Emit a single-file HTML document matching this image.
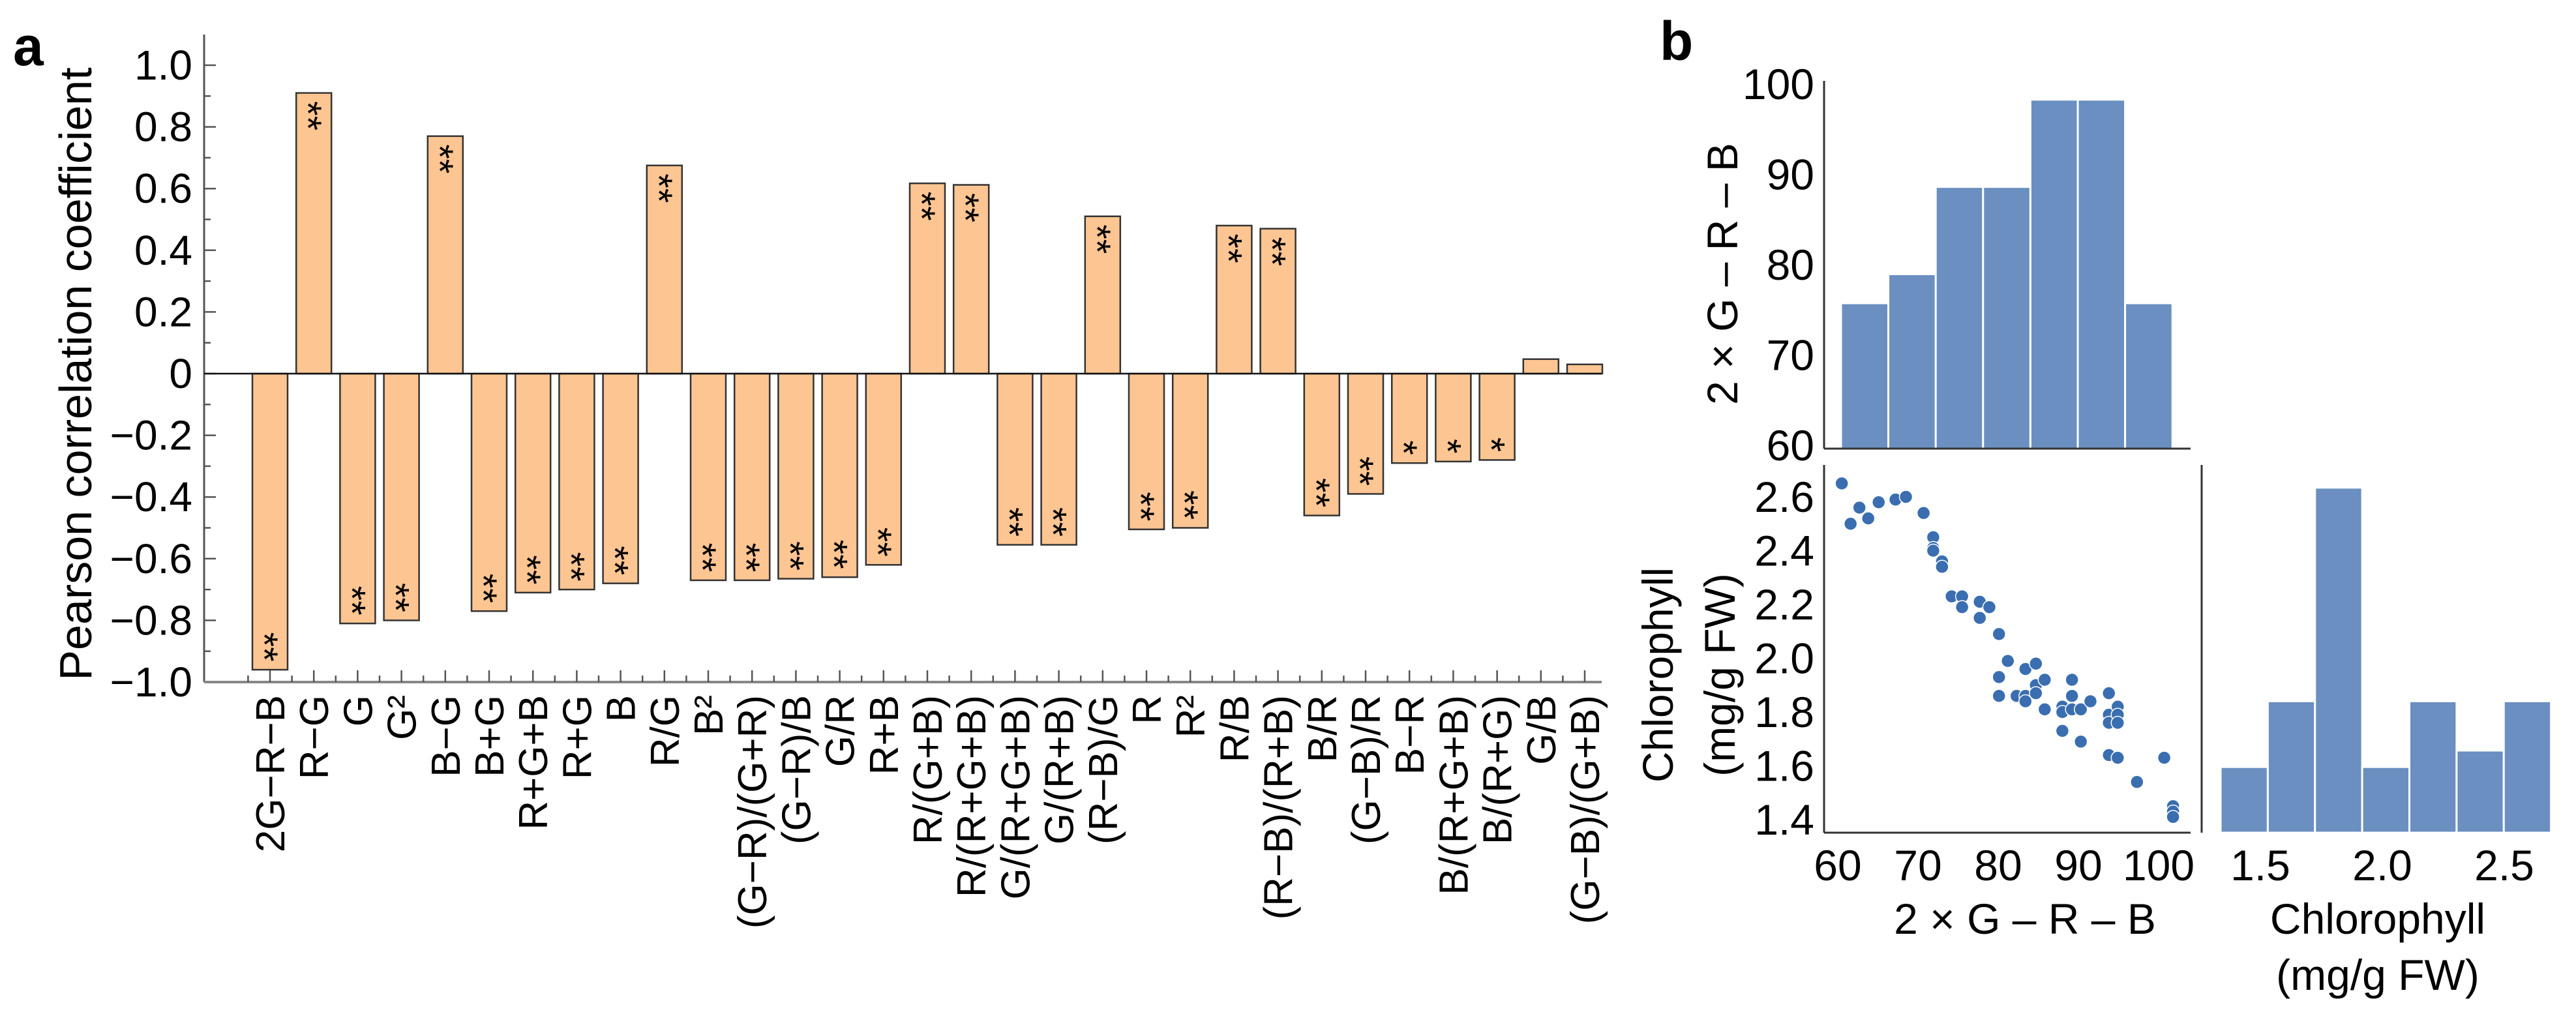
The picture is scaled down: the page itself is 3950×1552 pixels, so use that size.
<!DOCTYPE html>
<html><head><meta charset="utf-8">
<style>
html,body{margin:0;padding:0;background:#fff;}
svg{display:block;font-family:"Liberation Sans",Arial,sans-serif;}
</style></head>
<body>
<svg id="fig" width="3950" height="1552" viewBox="0 0 3950 1552" xmlns="http://www.w3.org/2000/svg">
<text x="20" y="100" font-size="84" font-weight="bold">a</text>
<text x="2545" y="92" font-size="84" font-weight="bold">b</text>
<g id="pa"></g>
<g id="pb"></g>
</svg>
<script>
// ---- Panel a data ----
const categories = ["2G−R−B","R−G","G","G²","B−G","B+G","R+G+B","R+G","B","R/G","B²","(G−R)/(G+R)","(G−R)/B","G/R","R+B","R/(G+B)","R/(R+G+B)","G/(R+G+B)","G/(R+B)","(R−B)/G","R","R²","R/B","(R−B)/(R+B)","B/R","(G−B)/R","B−R","B/(R+G+B)","B/(R+G)","G/B","(G−B)/(G+B)"];
const corrValues = [-0.96,0.91,-0.81,-0.80,0.77,-0.77,-0.71,-0.70,-0.68,0.675,-0.67,-0.67,-0.665,-0.66,-0.62,0.617,0.612,-0.555,-0.555,0.51,-0.505,-0.50,0.48,0.47,-0.46,-0.39,-0.29,-0.285,-0.28,0.047,0.03];
const significance = ["**","**","**","**","**","**","**","**","**","**","**","**","**","**","**","**","**","**","**","**","**","**","**","**","**","**","*","*","*","",""];
const yTicks = [1.0,0.8,0.6,0.4,0.2,0,-0.2,-0.4,-0.6,-0.8,-1.0];
const yTickLabels = ["1.0","0.8","0.6","0.4","0.2","0","−0.2","−0.4","−0.6","−0.8","−1.0"];

// ---- Panel b data ----
const scatterX = [60.5,61.6,62.7,63.8,65.1,67.2,68.5,70.7,71.9,71.9,71.9,73.0,73.0,74.2,75.5,75.5,77.7,77.7,78.9,80.1,80.1,80.1,81.2,82.3,83.4,83.4,83.4,84.7,84.7,84.7,85.8,85.8,88.0,88.0,88.0,89.2,89.2,89.2,90.3,90.3,91.5,93.8,93.8,93.8,93.8,94.9,94.9,94.9,94.9,97.3,100.7,101.8,101.8,101.8];
const scatterY = [2.65,2.50,2.56,2.52,2.58,2.59,2.60,2.54,2.45,2.41,2.40,2.36,2.34,2.23,2.23,2.19,2.21,2.15,2.19,2.09,1.93,1.86,1.99,1.86,1.96,1.86,1.84,1.98,1.90,1.87,1.92,1.81,1.82,1.80,1.73,1.92,1.86,1.81,1.81,1.69,1.84,1.87,1.79,1.76,1.64,1.82,1.79,1.76,1.63,1.54,1.63,1.45,1.43,1.41];
const histTopCounts = [5,6,9,9,12,12,5];
const histRightCounts = [4,8,21,4,8,5,8];
const scatterXTicks = [60,70,80,90,100];
const scatterYTicks = [1.4,1.6,1.8,2.0,2.2,2.4,2.6];
const topHistTicks = [60,70,80,90,100];
const rightHistTicks = [1.5,2.0,2.5];

const NS="http://www.w3.org/2000/svg";
function mk(tag,attrs,parent,txt){const e=document.createElementNS(NS,tag);for(const k in attrs)e.setAttribute(k,attrs[k]);if(txt!==undefined)e.textContent=txt;parent.appendChild(e);return e;}

// ===== Panel a =====
const pa=document.getElementById('pa');
const axX=313, axRight=2456, y0=573, unit=473, x0c=414, pitch=67.2, barW=54;
const ya=v=>y0-v*unit;
const xa=i=>x0c+i*pitch;
let ax=mk('line',{x1:axX,y1:53,x2:axX,y2:ya(-1),stroke:'#555','stroke-width':3},pa);

for(let k=-10;k<=10;k++){const v=k/10;const major=(k%2===0);
 const t=mk('line',{x1:axX,y1:ya(v),x2:axX+(major?18:10),y2:ya(v),stroke:'#555','stroke-width':2.5},pa);
 }
yTicks.forEach((v,i)=>{const t=mk('text',{x:axX-18,y:ya(v)+22,'font-size':64,'text-anchor':'end'},pa,yTickLabels[i]);
 });
let yt=mk('text',{x:0,y:0,'font-size':70,'text-anchor':'middle',transform:`translate(140,${(100+1047)/2}) rotate(-90)`},pa,'Pearson correlation coefficient');

// bars
corrValues.forEach((v,i)=>{
 const cx=xa(i);const top=Math.min(ya(v),y0),h=Math.abs(ya(v)-y0);
 const r=mk('rect',{x:cx-barW/2,y:top,width:barW,height:h,fill:'#FDC592',stroke:'#333','stroke-width':2.5},pa);
 
});
// significance marks (drawn after bars)
corrValues.forEach((v,i)=>{
 const cx=xa(i);const s=significance[i];
 if(s){const len=s.length*23;const cy=v>0?ya(v)+12+len/2:ya(v)-12-len/2;
  const st=mk('text',{x:0,y:0,'font-size':58,'text-anchor':'middle',transform:`translate(${cx-29},${cy}) rotate(90)`},pa,s);
  }
});
let zl=mk('line',{x1:axX,y1:y0,x2:axRight,y2:y0,stroke:'#111','stroke-width':2.5},pa);

let xl=mk('line',{x1:axX,y1:ya(-1),x2:axRight,y2:ya(-1),stroke:'#888','stroke-width':4},pa);

for(let k=-1;k<=categories.length*2-1;k++){const x=x0c+k*pitch/2;if(x<axX+5||x>axRight)continue;const major=(k%2===0);
 const t=mk('line',{x1:x,y1:ya(-1),x2:x,y2:ya(-1)-(major?18:10),stroke:'#555','stroke-width':2.5},pa);
 }
categories.forEach((c,i)=>{
 const t=mk('text',{x:0,y:0,'font-size':62,'text-anchor':'end',transform:`translate(${xa(i)+22},${ya(-1)+20}) rotate(-90)`},pa,c);
 });

// ===== Panel b =====
const pb=document.getElementById('pb');
const blue='#6A8FC0';
const sx=v=>2818+(v-60)*12.3;
const sy=v=>762+(2.6-v)*412.5;
const thBase=688, thUnit=44.6, binStart=2823, binW=72.6;
histTopCounts.forEach((c,i)=>{const r=mk('rect',{x:binStart+i*binW,y:thBase-c*thUnit,width:binW,height:c*thUnit,fill:blue,stroke:'#fff','stroke-width':3},pb);
 });
let a1=mk('line',{x1:2797,y1:124,x2:2797,y2:thBase,stroke:'#333','stroke-width':3},pb);
let a2=mk('line',{x1:2797,y1:thBase,x2:3359,y2:thBase,stroke:'#333','stroke-width':3},pb);
topHistTicks.forEach(v=>{const t=mk('text',{x:2782,y:683-(v-60)*13.85+23,'font-size':66,'text-anchor':'end'},pb,String(v));
 });
let t1=mk('text',{x:0,y:0,'font-size':66,'text-anchor':'middle',transform:'translate(2664,420) rotate(-90)'},pb,'2 × G – R – B');

let a3=mk('line',{x1:2797,y1:713,x2:2797,y2:1277,stroke:'#333','stroke-width':3},pb);
let a4=mk('line',{x1:2797,y1:1277,x2:3359,y2:1277,stroke:'#333','stroke-width':3},pb);
scatterX.forEach((xv,i)=>{const c=mk('circle',{cx:sx(xv),cy:sy(scatterY[i]),r:10,fill:'#3A6EB0',stroke:'#fff','stroke-width':1.5},pb);
 });
scatterXTicks.forEach(v=>{const t=mk('text',{x:sx(v),y:1350,'font-size':66,'text-anchor':'middle'},pb,String(v));
 });
scatterYTicks.forEach(v=>{const t=mk('text',{x:2782,y:sy(v)+23,'font-size':66,'text-anchor':'end'},pb,v.toFixed(1));
 });
let t2=mk('text',{x:3105,y:1432,'font-size':66,'text-anchor':'middle'},pb,'2 × G – R – B');

let t3=mk('text',{x:0,y:0,'font-size':66,'text-anchor':'middle',transform:'translate(2565,1035) rotate(-90)'},pb,'Chlorophyll');

let t4=mk('text',{x:0,y:0,'font-size':66,'text-anchor':'middle',transform:'translate(2660,1035) rotate(-90)'},pb,'(mg/g FW)');

const rx=v=>3466+(v-1.5)*374;
const rhBase=1277, rhUnit=25.2, rbStart=1.337, rbW=0.1935;
histRightCounts.forEach((c,i)=>{const x1=rx(rbStart+i*rbW),x2=rx(rbStart+(i+1)*rbW);
 const r=mk('rect',{x:x1,y:rhBase-c*rhUnit,width:x2-x1,height:c*rhUnit,fill:blue,stroke:'#fff','stroke-width':3},pb);
 });
let a5=mk('line',{x1:3376,y1:713,x2:3376,y2:1277,stroke:'#333','stroke-width':3},pb);
rightHistTicks.forEach(v=>{const t=mk('text',{x:rx(v),y:1350,'font-size':66,'text-anchor':'middle'},pb,v.toFixed(1));
 });
let t5=mk('text',{x:3646,y:1432,'font-size':66,'text-anchor':'middle'},pb,'Chlorophyll');

let t6=mk('text',{x:3646,y:1518,'font-size':66,'text-anchor':'middle'},pb,'(mg/g FW)');

</script>
</body></html>
